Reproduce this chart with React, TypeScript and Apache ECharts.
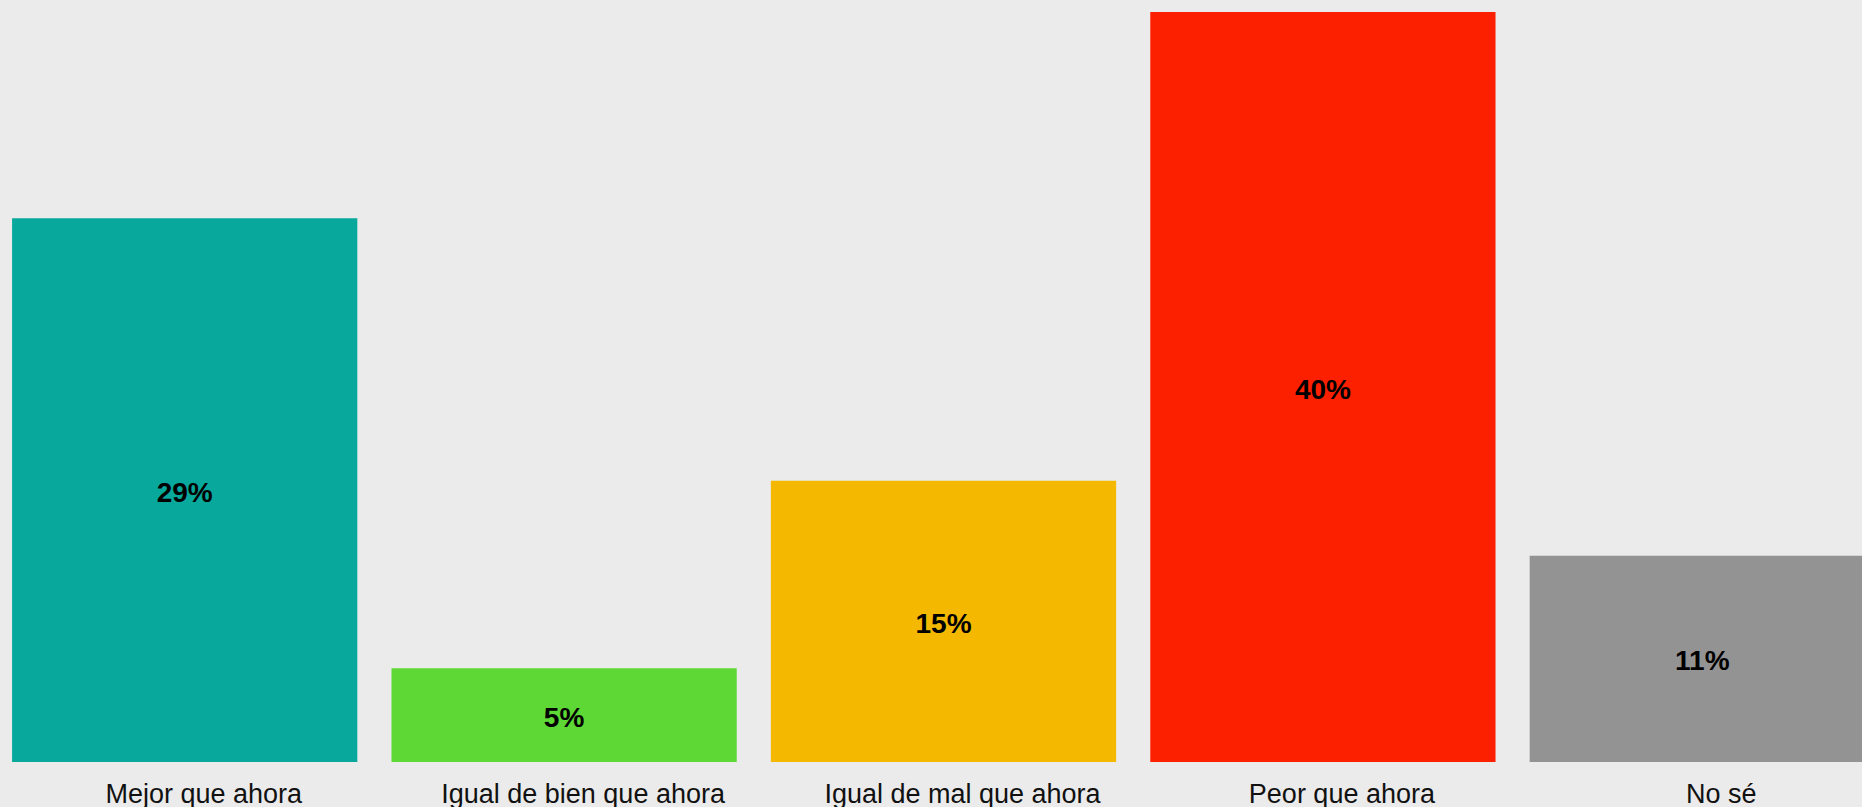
import React, { useEffect, useRef } from "react";
import * as echarts from "echarts";

const categories = [
  "Mejor que ahora",
  "Igual de bien que ahora",
  "Igual de mal que ahora",
  "Peor que ahora",
  "No sé",
];
const values = [29, 5, 15, 40, 11];
const colors = ["#08A89C", "#5DD835", "#F4B800", "#FC2000", "#939393"];

export default function App() {
  const ref = useRef<HTMLDivElement>(null);
  useEffect(() => {
    if (!ref.current) return;
    const chart = echarts.init(ref.current, null, { renderer: "svg" });
    chart.setOption({
      animation: false,
      backgroundColor: "#EBEBEB",
      grid: { left: 0, right: 0, top: 12, bottom: 45, containLabel: false },
      xAxis: {
        type: "category",
        data: categories,
        axisLine: { show: false },
        axisTick: { show: false },
        axisLabel: {
          color: "#111",
          fontFamily: "Liberation Sans, Arial, sans-serif",
          fontSize: 27,
          margin: 18,
          interval: 0,
          padding: [0, 0, 0, 38],
        },
      },
      yAxis: {
        type: "value",
        min: 0,
        max: 40,
        show: false,
        splitLine: { show: false },
      },
      series: [
        {
          type: "bar",
          barCategoryGap: "9%",
          data: values.map((v, i) => ({ value: v, itemStyle: { color: colors[i] } })),
          label: {
            show: true,
            position: "inside",
            offset: [0, 2],
            formatter: "{c}%",
            color: "#000",
            fontWeight: "bold",
            fontFamily: "Liberation Sans, Arial, sans-serif",
            fontSize: 28,
          },
        },
      ],
    });
    return () => chart.dispose();
  }, []);
  return (
    <div
      style={{
        position: "absolute",
        left: 0,
        top: 0,
        width: 1862,
        height: 807,
        overflow: "hidden",
        background: "#EBEBEB",
      }}
    >
      <div
        ref={ref}
        style={{ position: "absolute", left: -5, top: 0, width: 1897, height: 807 }}
      />
    </div>
  );
}
